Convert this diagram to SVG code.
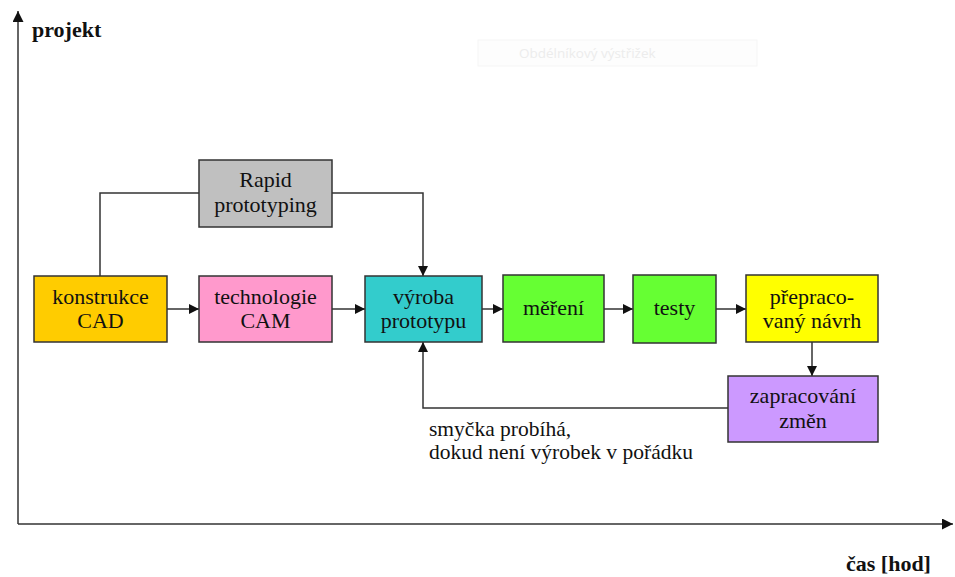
<svg xmlns="http://www.w3.org/2000/svg" width="955" height="577" viewBox="0 0 955 577">
<defs>
<marker id="ah" viewBox="0 0 10 10" refX="10" refY="5" markerWidth="10" markerHeight="10" markerUnits="userSpaceOnUse" orient="auto">
<path d="M0,0 L10,5 L0,10 z" fill="#111"/>
</marker>
<marker id="ax" viewBox="0 0 10 10" refX="10" refY="5" markerWidth="11" markerHeight="11" markerUnits="userSpaceOnUse" orient="auto">
<path d="M0,0 L10,5 L0,10 z" fill="#111"/>
</marker>
</defs>
<style>
.box{stroke:#333;stroke-width:1.5}
.t{font-family:"Liberation Serif","Times New Roman",serif;font-size:22px;fill:#111;text-anchor:middle}
.note{font-family:"Liberation Serif","Times New Roman",serif;font-size:21.5px;fill:#111}
.ax{font-family:"Liberation Serif","Times New Roman",serif;font-size:22px;font-weight:bold;fill:#111}
.c{fill:none;stroke:#333;stroke-width:1.5}
</style>
<rect width="955" height="577" fill="#fff"/>
<g id="axes">
<line class="c" x1="18" y1="524" x2="18" y2="11" marker-end="url(#ax)"/>
<line class="c" x1="18" y1="524" x2="953" y2="524" marker-end="url(#ax)"/>
<text class="ax" x="32" y="37">projekt</text>
<text class="ax" x="846" y="571">čas [hod]</text>
</g>
<g id="snip">
<rect x="478" y="40" width="279" height="26" fill="#fdfdfd" stroke="#f5f5f5"/>
<text x="519" y="58" font-family="Open Sans, sans-serif" font-size="13.5" fill="#ececec">Obdélníkový výstřižek</text>
</g>
<g id="connectors">
<polyline class="c" points="100,276 100,193 199,193"/>
<polyline class="c" points="332,193 423,193 423,276" marker-end="url(#ah)"/>
<line class="c" x1="167" y1="309" x2="199" y2="309" marker-end="url(#ah)"/>
<line class="c" x1="332" y1="309" x2="365" y2="309" marker-end="url(#ah)"/>
<line class="c" x1="482" y1="309" x2="503" y2="309" marker-end="url(#ah)"/>
<line class="c" x1="604" y1="309" x2="633" y2="309" marker-end="url(#ah)"/>
<line class="c" x1="716" y1="309" x2="746" y2="309" marker-end="url(#ah)"/>
<line class="c" x1="812" y1="342" x2="812" y2="376" marker-end="url(#ah)"/>
<polyline class="c" points="728,408 423,408 423,342" marker-end="url(#ah)"/>
</g>
<g id="rapid">
<rect class="box" x="199" y="160" width="133" height="67" fill="#c0c0c0"/>
<text class="t" x="265.5" y="187">Rapid</text>
<text class="t" x="265.5" y="212">prototyping</text>
</g>
<g id="cad">
<rect class="box" x="34" y="276" width="133" height="66" fill="#ffcc00"/>
<text class="t" x="100.5" y="304">konstrukce</text>
<text class="t" x="100.5" y="328">CAD</text>
</g>
<g id="cam">
<rect class="box" x="199" y="276" width="133" height="66" fill="#ff99cc"/>
<text class="t" x="265.5" y="304">technologie</text>
<text class="t" x="265.5" y="328">CAM</text>
</g>
<g id="vyroba">
<rect class="box" x="365" y="276" width="117" height="66" fill="#33cccc"/>
<text class="t" x="423.5" y="304">výroba</text>
<text class="t" x="423.5" y="328">prototypu</text>
</g>
<g id="mereni">
<rect class="box" x="503" y="275" width="101" height="67" fill="#66ff33"/>
<text class="t" x="553.5" y="315">měření</text>
</g>
<g id="testy">
<rect class="box" x="633" y="275" width="83" height="68" fill="#66ff33"/>
<text class="t" x="674.5" y="315">testy</text>
</g>
<g id="prepracovany">
<rect class="box" x="746" y="275" width="132" height="67" fill="#ffff00"/>
<text class="t" x="812" y="304">přepraco-</text>
<text class="t" x="812" y="328">vaný návrh</text>
</g>
<g id="zapracovani">
<rect class="box" x="728" y="376" width="150" height="66" fill="#cc99ff"/>
<text class="t" x="803" y="403">zapracování</text>
<text class="t" x="803" y="428">změn</text>
</g>
<g id="note">
<text class="note" x="429" y="436">smyčka probíhá,</text>
<text class="note" x="429" y="459">dokud není výrobek v pořádku</text>
</g>
</svg>
